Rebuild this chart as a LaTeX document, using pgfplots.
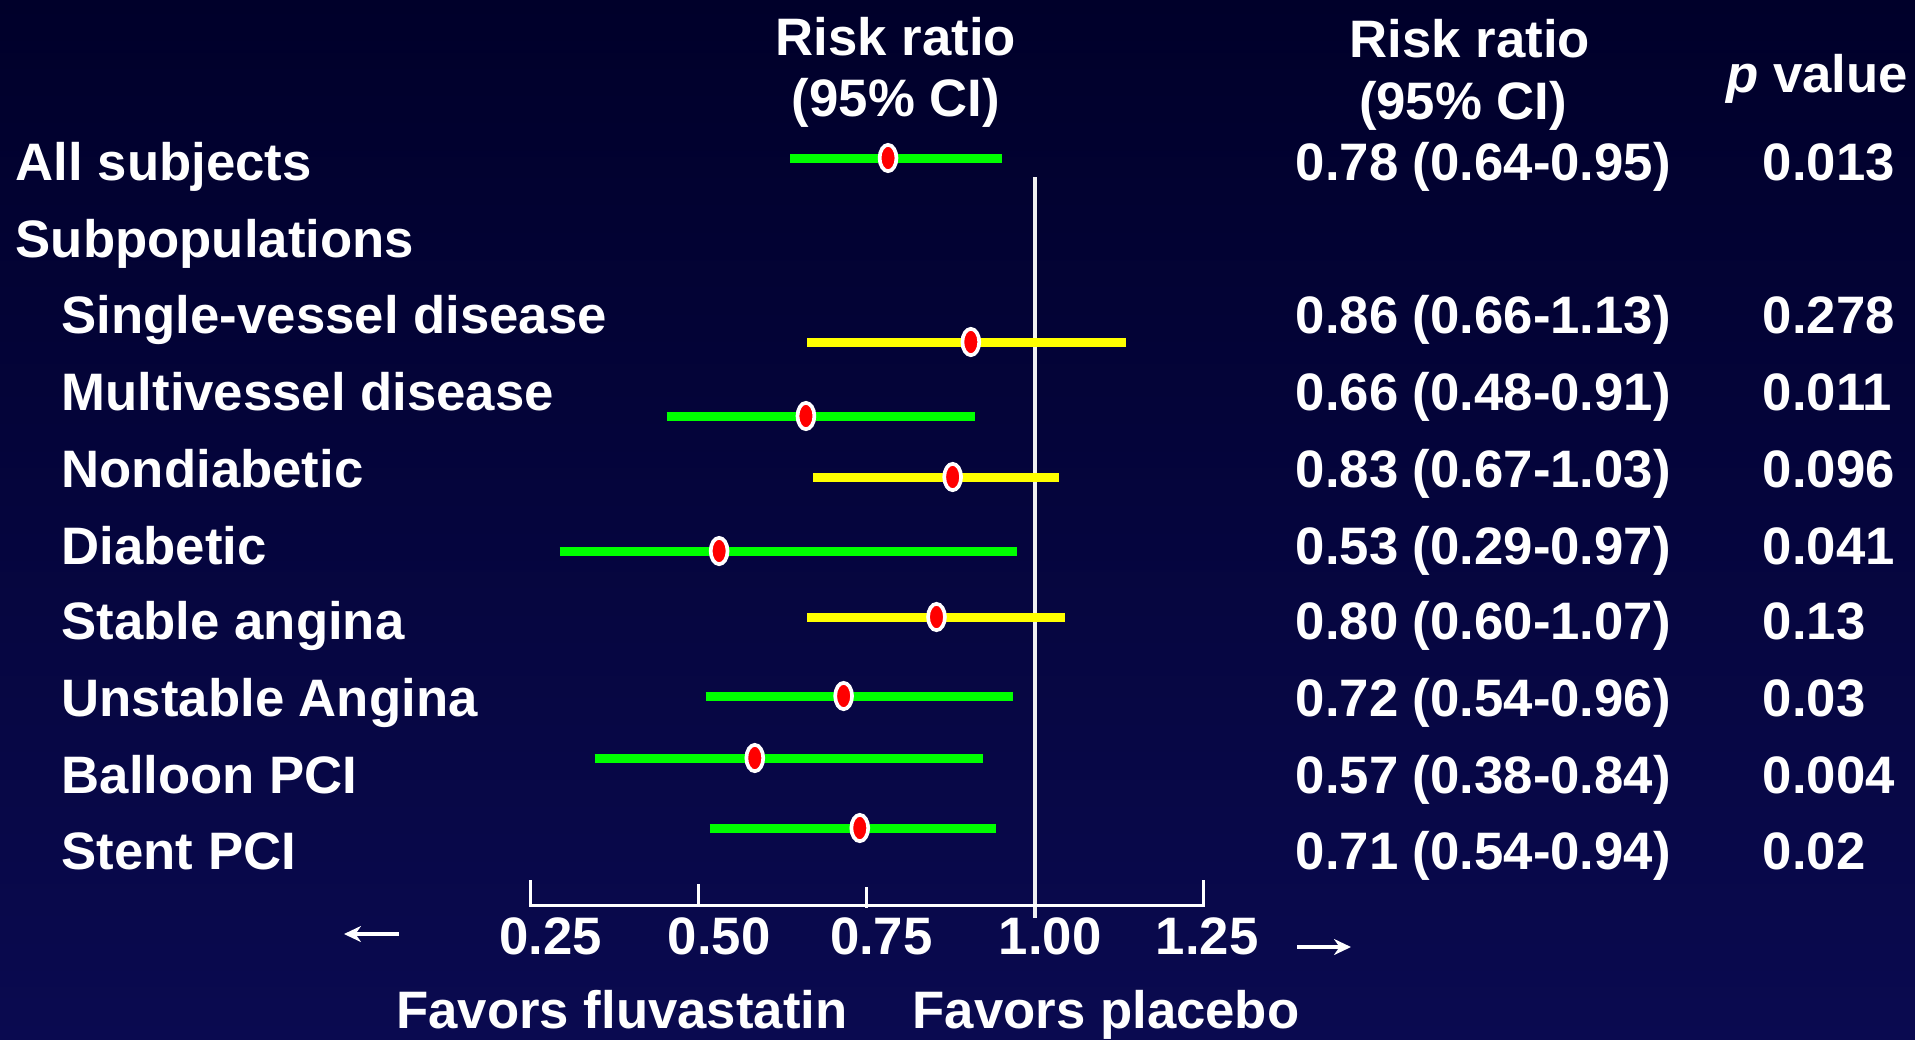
\documentclass[border=0pt]{standalone}
\usepackage{pgfplots}
\pgfplotsset{compat=1.18}
\usepackage{fontspec}
\setmainfont{Liberation Sans}
\usetikzlibrary{arrows.meta}
\definecolor{bgtop}{RGB}{0,0,42}
\definecolor{bgbot}{RGB}{10,10,80}
\definecolor{cigreen}{RGB}{0,255,0}
\definecolor{ciyellow}{RGB}{255,255,0}
\definecolor{ptred}{RGB}{255,0,0}
\tikzset{lbl/.style={font=\fontsize{15}{18}\selectfont\bfseries, text=white, inner sep=0pt}}
\begin{document}
\begin{tikzpicture}
\begin{axis}[
  width=19.15cm, height=10.39cm, scale only axis,
  xmin=-0.53752, xmax=2.30795, ymin=0, ymax=1039, y dir=reverse,
  hide axis, clip=false,
]
\fill[top color=bgtop, bottom color=bgbot] (rel axis cs:0,0) rectangle (rel axis cs:1,1);

% reference line at 1.00 and scale
\addplot[white!88!gray, line width=0.35mm] coordinates {(1.0,177) (1.0,918)};
\addplot[white, line width=0.3mm] coordinates {(0.25,880) (0.25,905) (1.25,905) (1.25,880)};
\addplot[white, line width=0.3mm] coordinates {(0.5,884) (0.5,905)};
\addplot[white, line width=0.3mm] coordinates {(0.75,887) (0.75,908)};

% confidence intervals
\addplot[cigreen, line width=0.9mm] coordinates {(0.637,158) (0.952,158)};
\addplot[ciyellow, line width=0.9mm] coordinates {(0.662,342) (1.136,342)};
\addplot[cigreen, line width=0.9mm] coordinates {(0.453,416) (0.911,416)};
\addplot[ciyellow, line width=0.9mm] coordinates {(0.671,477) (1.036,477)};
\addplot[cigreen, line width=0.9mm] coordinates {(0.294,551) (0.974,551)};
\addplot[ciyellow, line width=0.9mm] coordinates {(0.662,617) (1.045,617)};
\addplot[cigreen, line width=0.9mm] coordinates {(0.511,696) (0.967,696)};
\addplot[cigreen, line width=0.9mm] coordinates {(0.346,758) (0.923,758)};
\addplot[cigreen, line width=0.9mm] coordinates {(0.517,828) (0.943,828)};

% point estimates
\addplot[only marks, mark=*, mark size=3.75pt,
  mark options={fill=ptred, draw=white, line width=1.05pt, xscale=0.64}] table {
x y
0.782 158
0.905 342
0.660 416
0.878 477
0.531 551
0.854 617
0.716 696
0.584 758
0.740 828
};

% headers
\node[lbl, anchor=base] at (axis cs:0.7938,55) {Risk ratio};
\node[lbl, anchor=base] at (axis cs:0.7938,116) {(95\% CI)};
\node[lbl, anchor=base] at (axis cs:1.6467,57) {Risk ratio};
\node[lbl, anchor=base] at (axis cs:1.6363,119) {(95\% CI)};
\node[lbl, anchor=base] at (axis cs:2.1623,92) {\itshape p\upshape{} value};

% row labels
\node[lbl, anchor=base west] at (axis cs:-0.5152,180) {All subjects};
\node[lbl, anchor=base west] at (axis cs:-0.5152,257) {Subpopulations};
\node[lbl, anchor=base west] at (axis cs:-0.4469,333) {Single-vessel disease};
\node[lbl, anchor=base west] at (axis cs:-0.4469,410) {Multivessel disease};
\node[lbl, anchor=base west] at (axis cs:-0.4469,487) {Nondiabetic};
\node[lbl, anchor=base west] at (axis cs:-0.4469,564) {Diabetic};
\node[lbl, anchor=base west] at (axis cs:-0.4469,639) {Stable angina};
\node[lbl, anchor=base west] at (axis cs:-0.4469,716) {Unstable Angina};
\node[lbl, anchor=base west] at (axis cs:-0.4469,793) {Balloon PCI};
\node[lbl, anchor=base west] at (axis cs:-0.4469,869) {Stent PCI};

% risk ratio column
\node[lbl, anchor=base west] at (axis cs:1.3867,180) {0.78 (0.64-0.95)};
\node[lbl, anchor=base west] at (axis cs:1.3867,333) {0.86 (0.66-1.13)};
\node[lbl, anchor=base west] at (axis cs:1.3867,410) {0.66 (0.48-0.91)};
\node[lbl, anchor=base west] at (axis cs:1.3867,487) {0.83 (0.67-1.03)};
\node[lbl, anchor=base west] at (axis cs:1.3867,564) {0.53 (0.29-0.97)};
\node[lbl, anchor=base west] at (axis cs:1.3867,639) {0.80 (0.60-1.07)};
\node[lbl, anchor=base west] at (axis cs:1.3867,716) {0.72 (0.54-0.96)};
\node[lbl, anchor=base west] at (axis cs:1.3867,793) {0.57 (0.38-0.84)};
\node[lbl, anchor=base west] at (axis cs:1.3867,869) {0.71 (0.54-0.94)};

% p value column
\node[lbl, anchor=base west] at (axis cs:2.0806,180) {0.013};
\node[lbl, anchor=base west] at (axis cs:2.0806,333) {0.278};
\node[lbl, anchor=base west] at (axis cs:2.0806,410) {0.011};
\node[lbl, anchor=base west] at (axis cs:2.0806,487) {0.096};
\node[lbl, anchor=base west] at (axis cs:2.0806,564) {0.041};
\node[lbl, anchor=base west] at (axis cs:2.0806,639) {0.13};
\node[lbl, anchor=base west] at (axis cs:2.0806,716) {0.03};
\node[lbl, anchor=base west] at (axis cs:2.0806,793) {0.004};
\node[lbl, anchor=base west] at (axis cs:2.0806,869) {0.02};

% scale labels
\node[lbl, anchor=base] at (axis cs:0.281,954) {0.25};
\node[lbl, anchor=base] at (axis cs:0.531,954) {0.50};
\node[lbl, anchor=base] at (axis cs:0.772,954) {0.75};
\node[lbl, anchor=base] at (axis cs:1.023,954) {1.00};
\node[lbl, anchor=base] at (axis cs:1.256,954) {1.25};

\draw[white, line width=1pt, -{Stealth[length=1.7mm,width=1.6mm]}] (axis cs:0.0553,934) -- (axis cs:-0.0264,934);
\draw[white, line width=1pt, -{Stealth[length=1.7mm,width=1.6mm]}] (axis cs:1.3897,947) -- (axis cs:1.4699,947);

\node[lbl, anchor=base] at (axis cs:0.3867,1028) {Favors fluvastatin};
\node[lbl, anchor=base] at (axis cs:1.1059,1028) {Favors placebo};
\end{axis}
\pgfresetboundingbox
\path[use as bounding box] (current axis.south west) rectangle (current axis.north east);
\end{tikzpicture}
\end{document}
